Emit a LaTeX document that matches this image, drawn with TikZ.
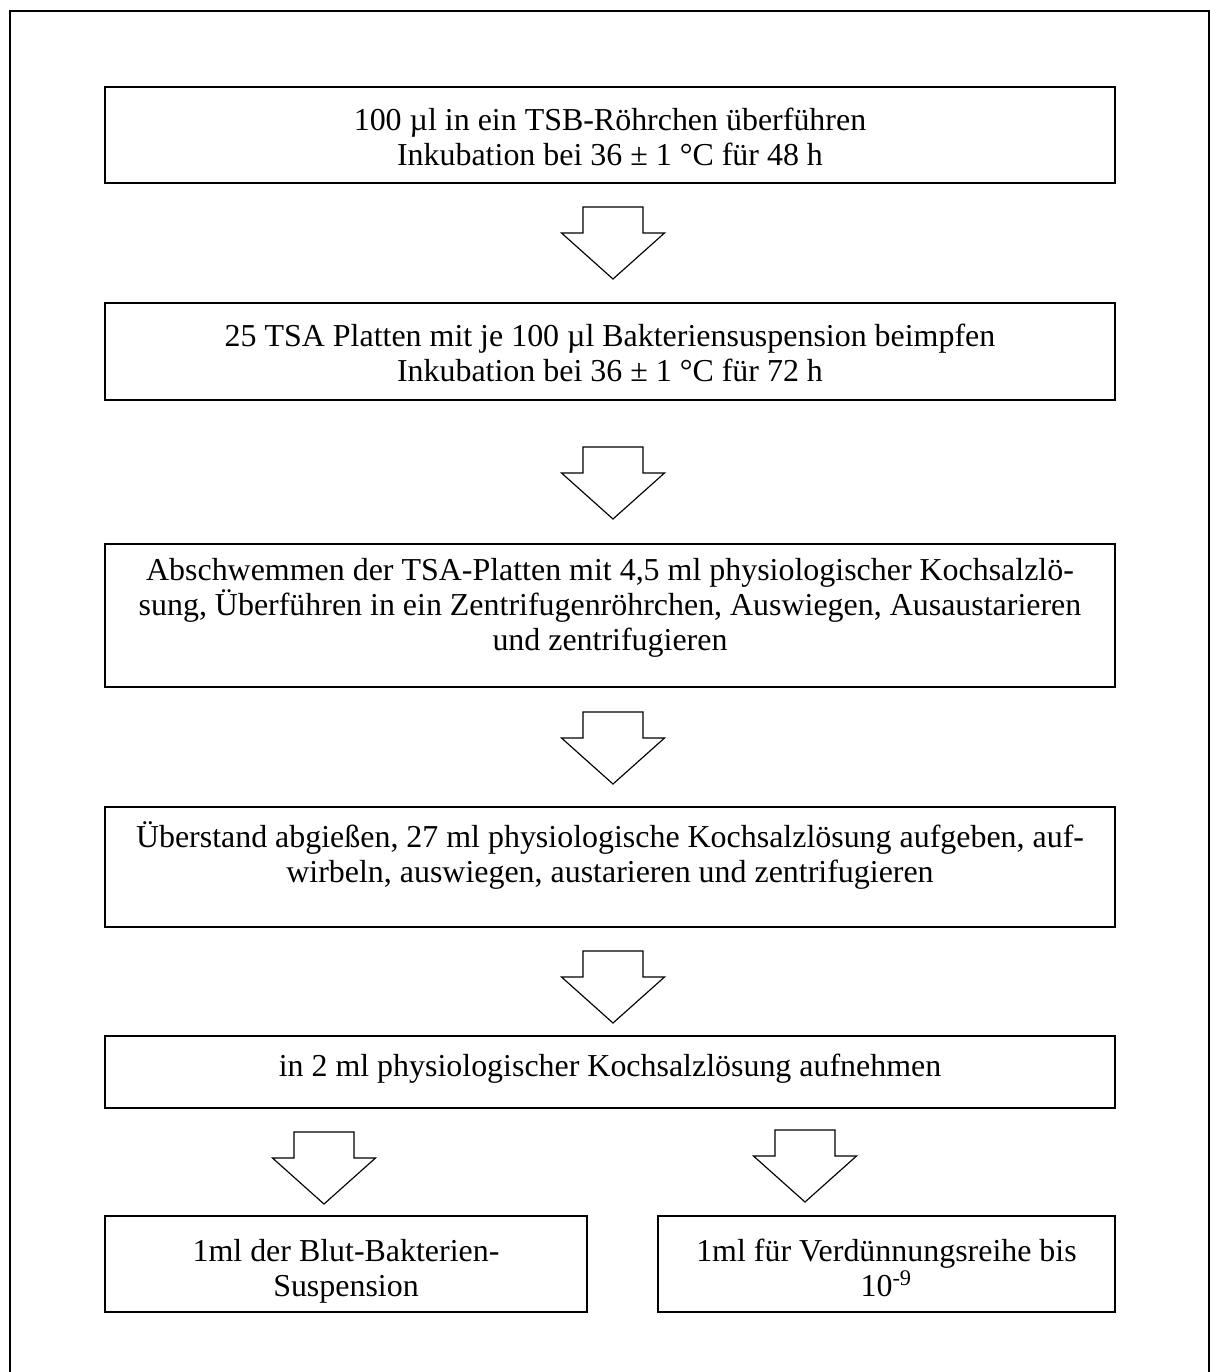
\documentclass[tikz,border=0pt]{standalone}
\usepackage{fontspec}
\setmainfont{Liberation Serif}
\newcommand\pxu{0.3883pt}
\newcommand\tops{\rule{0pt}{12pt}}
\tikzset{
  stepbox/.style={draw, line width=0.6pt, rectangle, inner sep=0pt},
  steptext/.style={anchor=north, inner sep=0pt, align=center,
    font=\fontsize{12.4}{13.6}\selectfont},
  blockarrow/.style={draw, line width=0.45pt, line join=miter},
  downarrow/.pic={\draw[blockarrow] (-30,0) -- (30,0) -- (30,26) -- (51.5,26) -- (0,72) -- (-51.5,26) -- (-30,26) -- cycle;},
  frameline/.style={line width=0.5pt}
}
\begin{document}
\begin{tikzpicture}[x=0.3883pt,y=-0.3883pt]
\useasboundingbox (0,0) rectangle (1210,1372);
\draw[frameline] (10,1372) -- (10,11) -- (1209,11) -- (1209,1372);

% boxes
\node[stepbox, minimum width=1010*\pxu, minimum height=96*\pxu] (b1) at (610,135) {};
\node[stepbox, minimum width=1010*\pxu, minimum height=97*\pxu] (b2) at (610,351.5) {};
\node[stepbox, minimum width=1010*\pxu, minimum height=143*\pxu] (b3) at (610,615.5) {};
\node[stepbox, minimum width=1010*\pxu, minimum height=120*\pxu] (b4) at (610,867) {};
\node[stepbox, minimum width=1010*\pxu, minimum height=72*\pxu] (b5) at (610,1072) {};
\node[stepbox, minimum width=482*\pxu, minimum height=96*\pxu] (b6) at (346,1264) {};
\node[stepbox, minimum width=457*\pxu, minimum height=96*\pxu] (b7) at (886.5,1264) {};

% texts
\node[steptext] (t1) at (610,99.1)
  {\tops 100 µl in ein TSB-Röhrchen überführen\\Inkubation bei 36 ± 1 °C für 48 h};
\node[steptext] (t2) at (610,315.1)
  {\tops 25 TSA Platten mit je 100 µl Bakteriensuspension beimpfen\\Inkubation bei 36 ± 1 °C für 72 h};
\node[steptext] (t3) at (610,549.1)
  {\tops Abschwemmen der TSA-Platten mit 4,5 ml physiologischer Kochsalzlö-\\sung, Überführen in ein Zentrifugenröhrchen, Auswiegen, Ausaustarieren\\und zentrifugieren};
\node[steptext] (t4) at (610,816.1)
  {\tops Überstand abgießen, 27 ml physiologische Kochsalzlösung aufgeben, auf-\\wirbeln, auswiegen, austarieren und zentrifugieren};
\node[steptext] (t5) at (610,1045.1)
  {\tops in 2 ml physiologischer Kochsalzlösung aufnehmen};
\node[steptext] (t6) at (346,1230.1)
  {\tops 1ml der Blut-Bakterien-\\Suspension};
\node[steptext] (t7) at (886.5,1230.1)
  {\tops 1ml für Verdünnungsreihe bis\\10\textsuperscript{-9}};

% block arrows
\coordinate (a1) at (613,207);
\coordinate (a2) at (613,447);
\coordinate (a3) at (613,712);
\coordinate (a4) at (613,951);
\coordinate (a5) at (324,1132);
\coordinate (a6) at (805,1130);
\foreach \a in {a1,a2,a3,a4,a5,a6} { \pic at (\a) {downarrow}; }
\end{tikzpicture}
\end{document}
